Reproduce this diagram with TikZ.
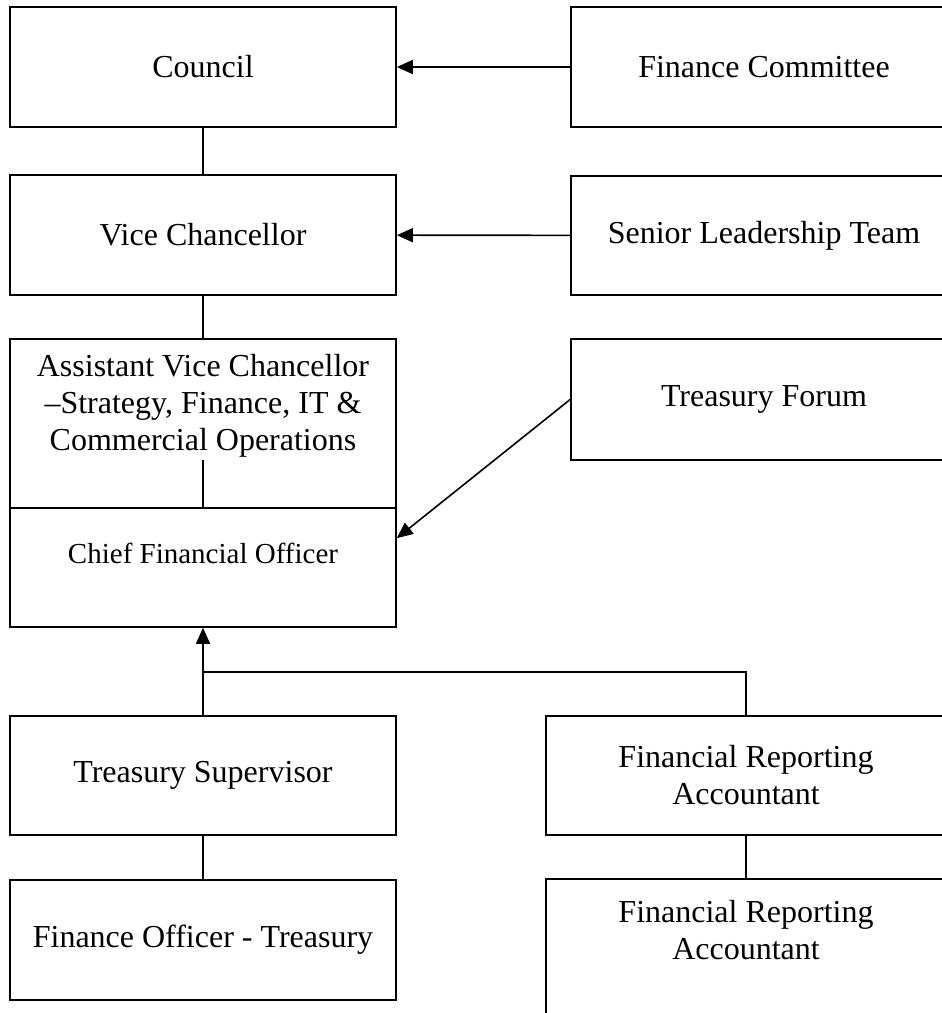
\documentclass[tikz,border=0pt]{standalone}
\usepackage{fontspec}
\setmainfont{Liberation Serif}
\usetikzlibrary{arrows.meta}

\begin{document}
\begin{tikzpicture}[x=1pt, y=-1pt, line width=1.6pt,
		font=\fontsize{32}{37}\selectfont,
		box/.style={draw, rectangle, minimum width=386pt, minimum height=120pt, align=center},
		wide/.style={box, minimum width=400pt},
		arrow/.style={-{Triangle[length=16pt, width=14pt]}}]
			\clip (0, 0) rectangle (942, 1013);

			\draw (203, 67) 	node[box] 	(council) 	{Council};
			\draw (764, 67) 	node[box] 	(fin_comm) 	{Finance Committee};
			\draw (203, 235) 	node[box] 	(vc) 		{Vice Chancellor};
			\draw (764, 235.5) 	node[box, minimum height=119pt] 	(slt) 	{Senior Leadership Team};
			\draw (203, 423.5) 	node[box, minimum height=169pt, label={[name=avc_text, align=center, yshift=18pt]center:Assistant Vice Chancellor\\--Strategy, Finance, IT \&\\Commercial Operations}] 	(avc) 	{};
			\draw (764, 399.5) 	node[box, minimum height=121pt] 	(tf) 	{Treasury Forum};
			\draw (203, 567.5) 	node[box, minimum height=119pt, label={[name=cfo_text, font=\fontsize{29}{34}\selectfont, yshift=14pt]center:Chief Financial Officer}] 	(cfo) 	{};
			\draw (203, 775.5) 	node[box, minimum height=119pt] 	(ts) 	{Treasury Supervisor};
			\draw (746, 775.5) 	node[wide, minimum height=119pt] 	(fra) 	{Financial Reporting\\Accountant};
			\draw (203, 940) 	node[box] 	(fot) 		{Finance Officer - Treasury};
			\draw (746, 969) 	node[wide, minimum height=180pt, label={[name=fra_b_text, align=center, yshift=39pt]center:Financial Reporting\\Accountant}] 	(fra_b) 	{};

			\coordinate (avc_stub) at (203, 460);
			\coordinate (join) at (203, 672);

			\draw[arrow] (fin_comm) -- (council);
			\draw[arrow] (slt) -- (vc);
			\draw[arrow] (tf.west) -- ([yshift=-31pt]cfo.north east);
			\draw[arrow] (ts.north) -- (cfo.south);
			\draw (council) -- (vc);
			\draw (vc) -- (avc);
			\draw (avc_stub) -- (cfo.north);
			\draw (fra.north) |- (join);
			\draw (fra) -- (fra_b);
			\draw (ts) -- (fot);
		\end{tikzpicture}
\end{document}
